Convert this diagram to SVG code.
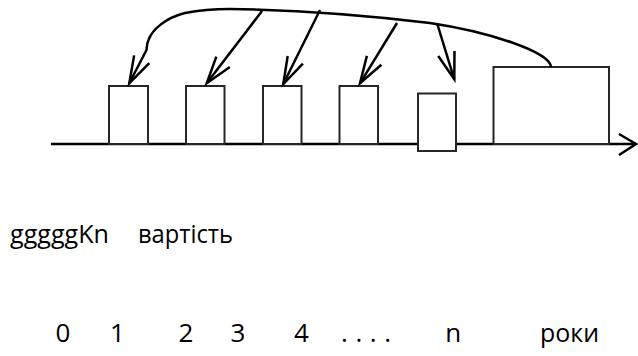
<svg xmlns="http://www.w3.org/2000/svg" width="638" height="356" viewBox="0 0 638 356">
  <style>
    .box { fill: #ffffff; stroke: #262626; stroke-width: 2; }
    .axis { fill: none; stroke: #000000; stroke-width: 2.5; }
    .link { fill: none; stroke: #000000; stroke-width: 2.5; marker-end: url(#vee); }
    .lbl { font-family: "Open Sans", "Noto Sans", "DejaVu Sans", sans-serif; font-size: 26px; fill: #000000; }
  </style>
  <defs>
    <marker id="vee" markerUnits="userSpaceOnUse" viewBox="-30 -12 32 24" markerWidth="32" markerHeight="24" refX="0" refY="0" orient="auto" overflow="visible">
      <path d="M -27 -8.5 L 0 0 L -27 8.5" fill="none" stroke="#000000" stroke-width="2.5" stroke-linejoin="miter"/>
    </marker>
  </defs>

  <rect width="638" height="356" fill="#ffffff"/>

  <!-- time axis -->
  <g id="axis">
    <line class="axis" x1="51" y1="144" x2="636" y2="144"/>
    <polyline class="axis" points="619,134 636,144 619,155"/>
  </g>

  <!-- payment blocks along the axis -->
  <g id="block-1"><rect class="box" x="109" y="86" width="39" height="58"/></g>
  <g id="block-2"><rect class="box" x="186" y="86" width="38.5" height="58"/></g>
  <g id="block-3"><rect class="box" x="263" y="86" width="38.5" height="58"/></g>
  <g id="block-4"><rect class="box" x="339.5" y="86" width="38.5" height="58"/></g>
  <g id="block-n"><rect class="box" x="418" y="93.5" width="38" height="57.5"/></g>
  <g id="block-total"><rect class="box" x="493.5" y="67" width="115.5" height="77"/></g>

  <!-- connectors from the total block back to each period -->
  <g id="connectors">
    <path class="link" d="M551,67 C550,52 490,32 430,23 C380,17 300,10 230,9 C215,9 200,10 185,13 C165,18 152,30 148.5,40 C147,43 147,45 146.5,50 L129.3,83.3"/>
    <line class="link" x1="262" y1="11" x2="206.7" y2="83.3"/>
    <line class="link" x1="320" y1="10" x2="283.3" y2="84"/>
    <line class="link" x1="397" y1="23" x2="360" y2="83.3"/>
    <line class="link" x1="437" y1="23" x2="454.3" y2="79.3"/>
  </g>

  <!-- labels -->
  <g id="labels">
    <text class="lbl" x="10" y="243" textLength="99" lengthAdjust="spacingAndGlyphs">gggggKn</text>
    <text class="lbl" x="138" y="243" textLength="95" lengthAdjust="spacingAndGlyphs">вартість</text>
    <text class="lbl" x="63" y="342" text-anchor="middle">0</text>
    <text class="lbl" x="117.5" y="342" text-anchor="middle">1</text>
    <text class="lbl" x="186" y="342" text-anchor="middle">2</text>
    <text class="lbl" x="238" y="342" text-anchor="middle">3</text>
    <text class="lbl" x="301.5" y="342" text-anchor="middle">4</text>
    <text class="lbl" x="341" y="342" textLength="50" lengthAdjust="spacing">. . . .</text>
    <text class="lbl" x="453.3" y="342" text-anchor="middle">n</text>
    <text class="lbl" x="540" y="342" textLength="59" lengthAdjust="spacingAndGlyphs">роки</text>
  </g>
</svg>
